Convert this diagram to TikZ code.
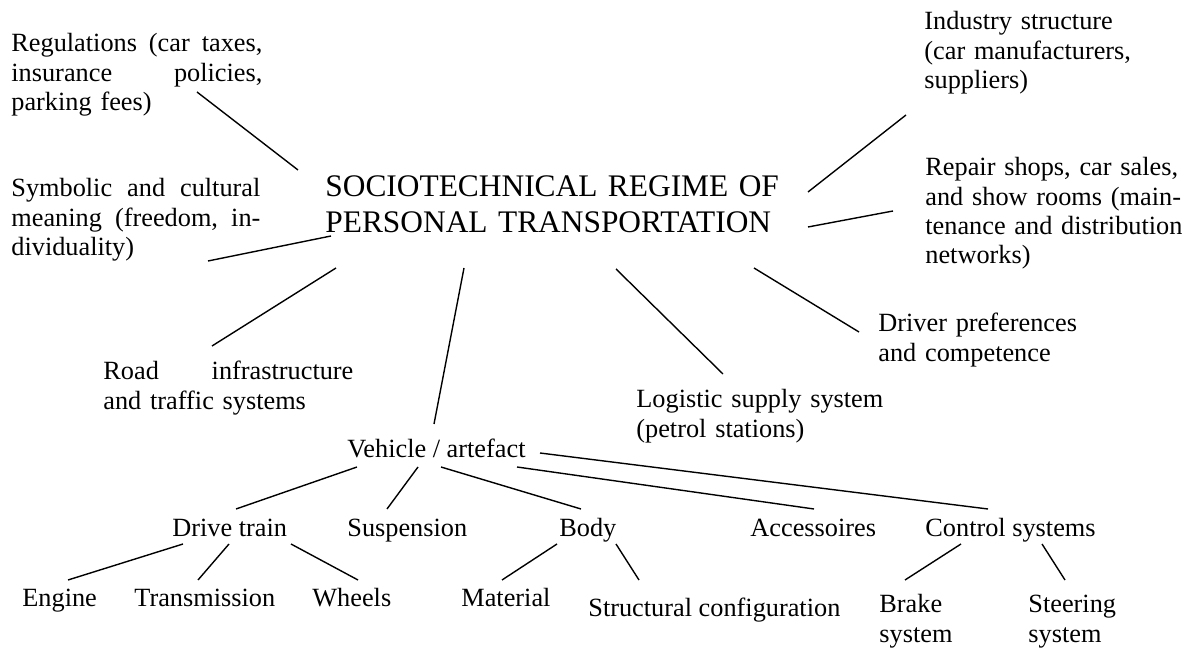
\documentclass[tikz,border=0pt]{standalone}
\usepackage{fontspec}
\setmainfont{Liberation Serif}
\usepackage{tikz}

\tikzset{
    lbl/.style = {anchor = base west, inner sep = 0pt, font = \fontsize{13.15}{14.6}\selectfont},
    blk/.style = {lbl, text width = #1, align = left},
    ttl/.style = {blk = #1, font = \fontsize{15.7}{18}\selectfont},
    link/.style = {line width = 0.7pt},
}

\begin{document}
\begin{tikzpicture}[x = 0.5pt, y = -0.5pt]
    \useasboundingbox (0, 0) rectangle (1189, 651);

    % regime and its surroundings
    \node[ttl = 240pt] (regime) at (325, 197) {SOCIOTECHNICAL REGIME OF\\ PERSONAL TRANSPORTATION};
    \node[blk = 125.5pt] (regul) at (11, 52) {Regulations\hfill (car\hfill taxes,\\ insurance\hfill policies,\\ parking fees)};
    \node[blk = 124.5pt] (symb) at (11, 197) {Symbolic\hfill and\hfill cultural\\ meaning\hfill (freedom,\hfill in-\\ dividuality)};
    \node[blk = 125pt] (road) at (103, 380) {Road\hfill infrastructure\\ and traffic systems};
    \node[blk = 130pt] (logist) at (636, 408) {Logistic supply system\\ (petrol stations)};
    \node[blk = 110pt] (driver) at (878, 332) {Driver preferences\\ and competence};
    \node[blk = 130pt] (repair) at (925, 176) {Repair shops, car sales,\\ and show rooms (main-\\ tenance and distribution\\ networks)};
    \node[blk = 110pt] (industry) at (924, 30) {Industry structure\\ (car manufacturers,\\ suppliers)};

    % artefact tree
    \node[lbl] (vehicle) at (347, 458) {Vehicle / artefact};
    \node[lbl] (drive) at (172, 537) {Drive train};
    \node[lbl] (susp) at (347, 537) {Suspension};
    \node[lbl] (body) at (559, 537) {Body};
    \node[lbl] (access) at (750, 537) {Accessoires};
    \node[lbl] (control) at (925, 537) {Control systems};
    \node[lbl] (engine) at (22, 607) {Engine};
    \node[lbl] (transm) at (134, 607) {Transmission};
    \node[lbl] (wheels) at (312, 607) {Wheels};
    \node[lbl] (material) at (461, 607) {Material};
    \node[lbl] (struct) at (588, 617) {Structural configuration};
    \node[blk = 50pt] (brake) at (879, 613) {Brake\\ system};
    \node[blk = 50pt] (steer) at (1028, 613) {Steering\\ system};

    \draw[link] ([shift = {(-27, -27)}]regime.base west) -- ([shift = {(186, 40)}]regul.base west);
    \draw[link] ([shift = {(6, 39)}]regime.base west) -- ([shift = {(197, 64)}]symb.base west);
    \draw[link] ([shift = {(11, 71)}]regime.base west) -- ([shift = {(109, -34)}]road.base west);
    \draw[link] ([shift = {(139, 71)}]regime.base west) -- ([shift = {(87, -34)}]vehicle.base west);
    \draw[link] ([shift = {(291, 72)}]regime.base west) -- ([shift = {(87, -34)}]logist.base west);
    \draw[link] ([shift = {(429, 71)}]regime.base west) -- ([shift = {(-19, 0)}]driver.base west);
    \draw[link] ([shift = {(483, 30)}]regime.base west) -- ([shift = {(-32, 35)}]repair.base west);
    \draw[link] ([shift = {(483, -5)}]regime.base west) -- ([shift = {(-18, 85)}]industry.base west);

    \draw[link] ([shift = {(10, 9)}]vehicle.base west) -- ([shift = {(64, -28)}]drive.base west);
    \draw[link] ([shift = {(71, 9)}]vehicle.base west) -- ([shift = {(40, -28)}]susp.base west);
    \draw[link] ([shift = {(94, 9)}]vehicle.base west) -- ([shift = {(22, -28)}]body.base west);
    \draw[link] ([shift = {(170, 9)}]vehicle.base west) -- ([shift = {(64, -28)}]access.base west);
    \draw[link] ([shift = {(193, -5)}]vehicle.base west) -- ([shift = {(63, -28)}]control.base west);

    \draw[link] ([shift = {(11, 7)}]drive.base west) -- ([shift = {(46, -27)}]engine.base west);
    \draw[link] ([shift = {(57, 7)}]drive.base west) -- ([shift = {(64, -27)}]transm.base west);
    \draw[link] ([shift = {(119, 7)}]drive.base west) -- ([shift = {(46, -27)}]wheels.base west);
    \draw[link] ([shift = {(-2, 7)}]body.base west) -- ([shift = {(41, -27)}]material.base west);
    \draw[link] ([shift = {(57, 7)}]body.base west) -- ([shift = {(51, -37)}]struct.base west);
    \draw[link] ([shift = {(36, 7)}]control.base west) -- ([shift = {(26, -33)}]brake.base west);
    \draw[link] ([shift = {(117, 7)}]control.base west) -- ([shift = {(37, -33)}]steer.base west);
\end{tikzpicture}
\end{document}
